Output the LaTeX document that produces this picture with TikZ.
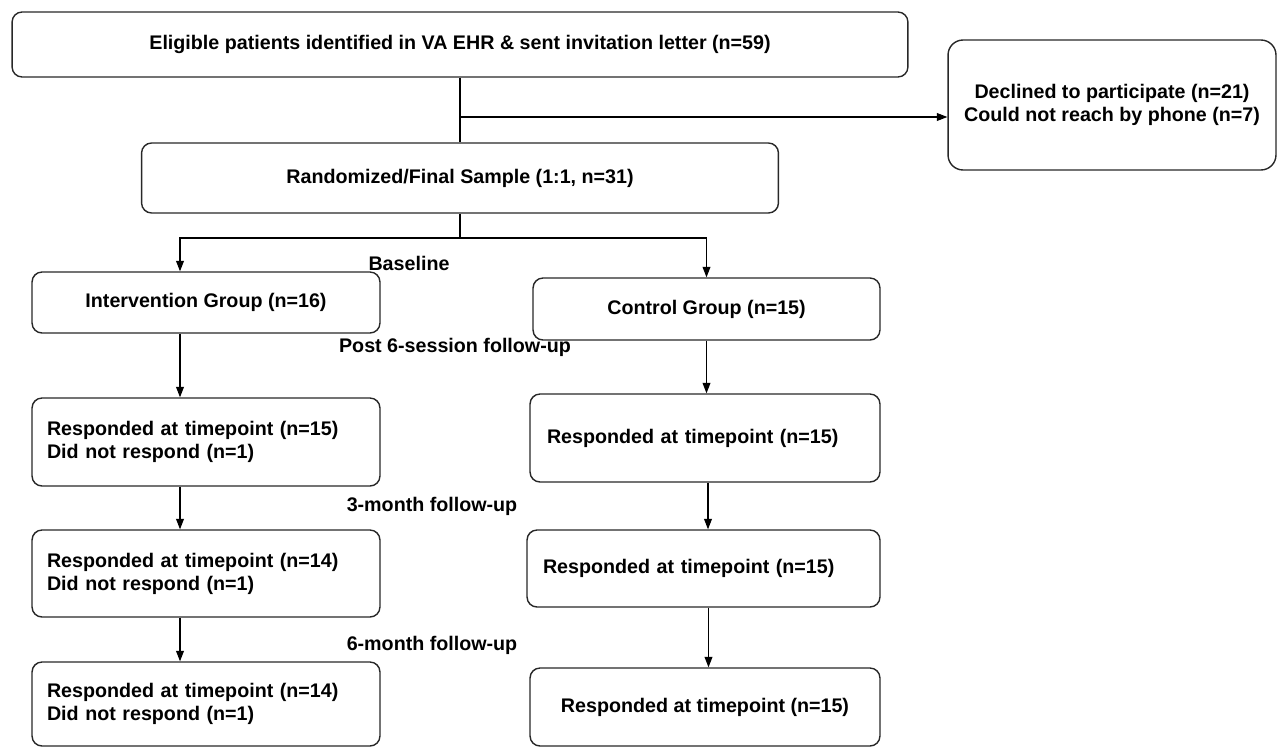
\documentclass[tikz,border=0pt]{standalone}
\usepackage{fontspec}
\setmainfont{Liberation Sans}
\usepackage{tikz}
\usetikzlibrary{arrows.meta, positioning, calc}
\definecolor{boxline}{RGB}{40, 40, 40}

\begin{document}
\begin{tikzpicture}[x=0.02cm, y=-0.02cm,
    every node/.style={font=\fontsize{11.2}{13}\selectfont\bfseries},
    box/.style={draw=boxline, line width=0.8pt, rounded corners=0.2cm, fill=white},
    leftbox/.style={box, align=left, inner xsep=0.3cm},
    arr/.style={-{Triangle[length=6pt, width=4.5pt]}, line width=0.6pt, black},
    plain/.style={line width=0.6pt, black}]
    \useasboundingbox (0,0) rectangle (1277,747);

    % Enrollment
    \node[box, minimum width=17.92cm, minimum height=1.3cm] (elig) at (460,44.5)
      {Eligible patients identified in VA EHR \& sent invitation letter (n=59)};
    \node[box, rounded corners=0.3cm, align=center,
          minimum width=6.56cm, minimum height=2.6cm] (decl) at (1112,105)
      {Declined to participate (n=21)\\Could not reach by phone (n=7)};
    \node[box, minimum width=12.74cm, minimum height=1.4cm] (rand) at (460,178)
      {Randomized/Final Sample (1:1, n=31)};

    % Baseline groups
    \node[box, minimum width=6.96cm, minimum height=1.22cm] (int) at (206,302.5)
      {Intervention Group (n=16)};
    \node[box, minimum width=6.94cm, minimum height=1.24cm] (ctrl) at (706.5,309)
      {Control Group (n=15)};

    % Intervention follow-ups
    \node[leftbox, text width=6.36cm, minimum height=1.76cm] (int1) at (206,442)
      {Responded at timepoint (n=15)\\Did not respond (n=1)};
    \node[leftbox, text width=6.36cm, minimum height=1.74cm] (int2) at (206,573.5)
      {Responded at timepoint (n=14)\\Did not respond (n=1)};
    \node[leftbox, text width=6.36cm, minimum height=1.68cm] (int3) at (206,704)
      {Responded at timepoint (n=14)\\Did not respond (n=1)};

    % Control follow-ups
    \node[leftbox, inner xsep=0.34cm, text width=6.32cm, minimum height=1.76cm] (ctrl1) at (705,438)
      {Responded at timepoint (n=15)};
    \node[leftbox, inner xsep=0.32cm, text width=6.42cm, minimum height=1.54cm] (ctrl2) at (703.5,568.5)
      {Responded at timepoint (n=15)};
    \node[box, minimum width=7.0cm, minimum height=1.56cm] (ctrl3) at (705,707)
      {Responded at timepoint (n=15)};

    % Timepoint labels
    \node (lbase) at (409,263) {Baseline};
    \node (lpost) at (455,347) {Post 6-session follow-up};
    \node (l3m) at (432,506) {3-month follow-up};
    \node (l6m) at (432,645) {6-month follow-up};

    % Arrows
    \coordinate (split) at (460,117);
    \coordinate (fork) at (460,238);
    \draw[plain] (elig.south) -- (rand.north);
    \draw[arr] (split) -- (split -| decl.west);
    \draw[plain] (rand.south) -- (fork);
    \draw[arr] (fork) -| ([xshift=-0.52cm]int.north);
    \draw[arr] (fork) -| (ctrl.north);
    \draw[arr] ([xshift=-0.52cm]int.south) -- ([xshift=-0.52cm]int1.north);
    \draw[arr] ([xshift=-0.52cm]int1.south) -- ([xshift=-0.52cm]int2.north);
    \draw[arr] ([xshift=-0.52cm]int2.south) -- ([xshift=-0.52cm]int3.north);
    \draw[arr] (ctrl.south) -- (ctrl.south |- ctrl1.north);
    \draw[arr] ([xshift=0.06cm]ctrl1.south) -- ([xshift=0.06cm]ctrl1.south |- ctrl2.north);
    \draw[arr] ([xshift=0.1cm]ctrl2.south) -- ([xshift=0.1cm]ctrl2.south |- ctrl3.north);
  \end{tikzpicture}
\end{document}
